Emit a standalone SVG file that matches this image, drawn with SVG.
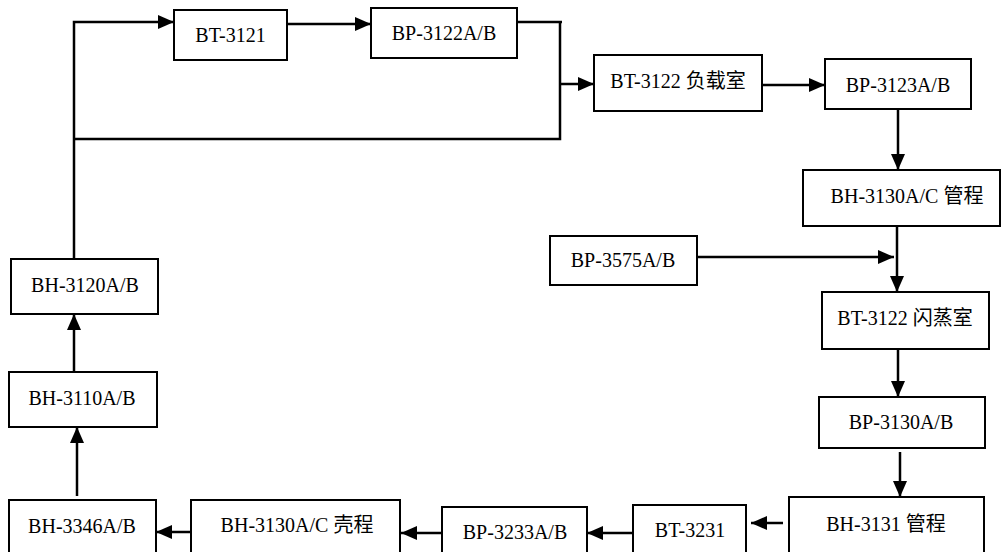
<svg xmlns="http://www.w3.org/2000/svg" width="1003" height="552" viewBox="0 0 1003 552">
<style>
.box{fill:#fff;stroke:#000;stroke-width:2}
.c{fill:none;stroke:#000;stroke-width:2.5}
.a{marker-end:url(#ah)}
</style>
<defs>
<marker id="ah" markerUnits="userSpaceOnUse" markerWidth="17" markerHeight="15" refX="16" refY="7" orient="auto">
<path d="M0,0 L16,7 L0,14 Z" fill="#000"/>
</marker>
</defs>
<rect width="1003" height="552" fill="#fff"/>
<g id="connectors">
<polyline class="c a" points="74,259 74,22 174,22"/>
<line class="c a" x1="287" y1="24" x2="371" y2="24"/>
<polyline class="c" points="517,22 562,22"/>
<polyline class="c" points="560,22 560,139 74,139"/>
<line class="c a" x1="560" y1="84" x2="594" y2="84"/>
<line class="c a" x1="762" y1="85" x2="825" y2="85"/>
<line class="c a" x1="898" y1="109" x2="898" y2="170"/>
<line class="c a" x1="897" y1="226" x2="897" y2="292"/>
<line class="c a" x1="697" y1="257" x2="894" y2="257"/>
<line class="c a" x1="898" y1="349" x2="898" y2="397"/>
<line class="c a" x1="900" y1="452" x2="900" y2="497"/>
<line class="c a" x1="783" y1="523" x2="751" y2="523"/>
<line class="c a" x1="633" y1="533" x2="587" y2="533"/>
<line class="c a" x1="442" y1="533" x2="401" y2="533"/>
<line class="c a" x1="193" y1="532" x2="156" y2="532"/>
<line class="c a" x1="77" y1="496" x2="77" y2="427"/>
<line class="c a" x1="74" y1="371" x2="74" y2="314"/>
</g>
<g font-family="Liberation Serif, Noto Sans CJK SC, serif" font-size="20" text-anchor="middle" fill="#000">
<g id="BT-3121"><rect class="box" x="174" y="10" width="113" height="50"/><text x="230.5" y="42" font-family="Liberation Serif, Noto Sans CJK SC, serif">BT-3121</text></g>
<g id="BP-3122AB"><rect class="box" x="371" y="8" width="146" height="50"/><text x="444" y="40" font-family="Liberation Serif, Noto Sans CJK SC, serif">BP-3122A/B</text></g>
<g id="BT-3122-load"><rect class="box" x="594" y="55" width="168" height="56"/><text x="678" y="88" font-family="Liberation Serif, Noto Sans CJK SC, serif">BT-3122 负载室</text></g>
<g id="BP-3123AB"><rect class="box" x="825" y="59" width="146" height="50"/><text x="898" y="92" font-family="Liberation Serif, Noto Sans CJK SC, serif">BP-3123A/B</text></g>
<g id="BH-3130AC-tube"><rect class="box" x="803" y="170" width="197" height="56"/><text x="907" y="203" font-family="Liberation Serif, Noto Sans CJK SC, serif">BH-3130A/C 管程</text></g>
<g id="BP-3575AB"><rect class="box" x="550" y="236" width="147" height="49"/><text x="623" y="267" font-family="Liberation Serif, Noto Sans CJK SC, serif">BP-3575A/B</text></g>
<g id="BT-3122-flash"><rect class="box" x="822" y="292" width="167" height="57"/><text x="905" y="325" font-family="Liberation Serif, Noto Sans CJK SC, serif">BT-3122 闪蒸室</text></g>
<g id="BP-3130AB"><rect class="box" x="819" y="397" width="166" height="51"/><text x="901" y="429" font-family="Liberation Serif, Noto Sans CJK SC, serif">BP-3130A/B</text></g>
<g id="BH-3131-tube"><rect class="box" x="789" y="497" width="195" height="62"/><text x="886" y="531" font-family="Liberation Serif, Noto Sans CJK SC, serif">BH-3131 管程</text></g>
<g id="BT-3231"><rect class="box" x="633" y="505" width="113" height="60"/><text x="690" y="537" font-family="Liberation Serif, Noto Sans CJK SC, serif">BT-3231</text></g>
<g id="BP-3233AB"><rect class="box" x="442" y="507" width="145" height="60"/><text x="515" y="539" font-family="Liberation Serif, Noto Sans CJK SC, serif">BP-3233A/B</text></g>
<g id="BH-3130AC-shell"><rect class="box" x="191" y="500" width="209" height="60"/><text x="297" y="532" font-family="Liberation Serif, Noto Sans CJK SC, serif">BH-3130A/C 壳程</text></g>
<g id="BH-3346AB"><rect class="box" x="9" y="500" width="147" height="60"/><text x="82" y="533" font-family="Liberation Serif, Noto Sans CJK SC, serif">BH-3346A/B</text></g>
<g id="BH-3110AB"><rect class="box" x="9" y="372" width="148" height="55"/><text x="82" y="405" font-family="Liberation Serif, Noto Sans CJK SC, serif">BH-3110A/B</text></g>
<g id="BH-3120AB"><rect class="box" x="11" y="259" width="147" height="55"/><text x="85" y="292" font-family="Liberation Serif, Noto Sans CJK SC, serif">BH-3120A/B</text></g>
</g>
</svg>
